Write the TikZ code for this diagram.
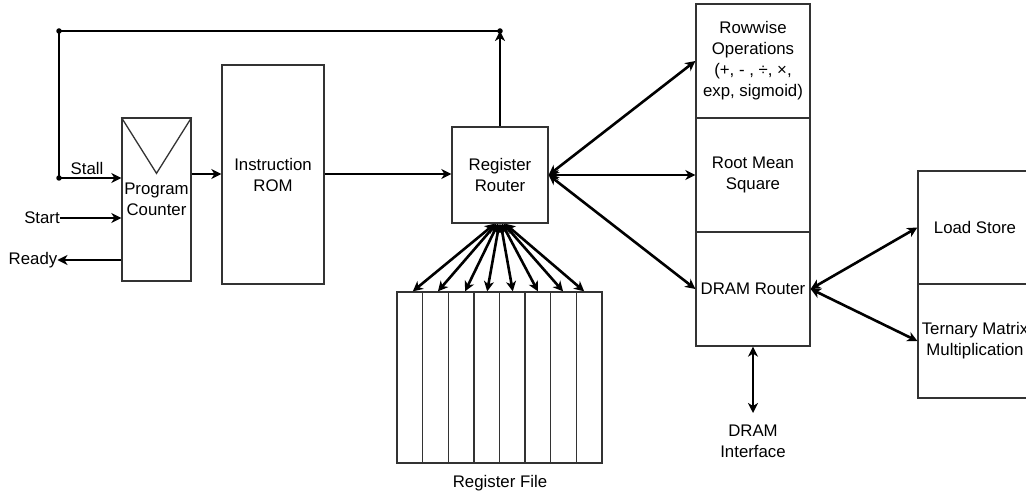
\documentclass[tikz,border=0pt]{standalone}
\usepackage{fontspec}
\setmainfont{Liberation Sans}
\usetikzlibrary{arrows.meta}
\begin{document}
\begin{tikzpicture}[x=1pt,y=-1pt,
  font=\fontsize{16.8}{21}\selectfont,
  box/.style={draw=black!80,line width=1.3pt,inner sep=0pt,align=center,fill=white},
  txt/.style={inner sep=0pt,align=center},
  arr/.style={line width=2.6pt,black,>={Stealth[length=10pt,width=10pt,inset=3pt]}},
  wire/.style={line width=2.6pt,black},
  dot/.style={circle,fill=black,inner sep=0pt,minimum size=5.5pt}]
\useasboundingbox (0,0) rectangle (1026,494);
% boxes
\node[box,minimum width=69pt,minimum height=163pt] (pc) at (156.5,199.5) {Program\\Counter};
\draw[black!80,line width=1.3pt] (pc.north west) -- ([yshift=-56pt]pc.north) -- (pc.north east);
\node[box,minimum width=102pt,minimum height=219pt] (rom) at (273,174.5) {Instruction\\ROM};
\node[box,minimum width=96pt,minimum height=96pt] (rr) at (500,175) {Register\\Router};
\foreach \i in {1,...,8}{
  \node[box,minimum width=25.6pt,minimum height=171pt] (rf\i) at ({397+25.625*(\i-0.5)},377.5) {};
}
\node[txt] (rflab) at (500,483) {Register File};
\node[box,minimum width=114pt,minimum height=114pt] (rw) at (753,61) {Rowwise\\Operations\\(+, - , ÷, ×,\\exp, sigmoid)};
\node[box,minimum width=114pt,minimum height=114pt] (rms) at (753,175) {Root Mean\\Square};
\node[box,minimum width=114pt,minimum height=114pt] (dram) at (753,289) {DRAM Router};
\node[box,minimum width=114pt,minimum height=113pt] (ls) at (975,227.5) {Load Store};
\node[box,minimum width=114pt,minimum height=114pt] (tm) at (975,341) {Ternary Matrix\\Multiplication};
\node[txt] (dif) at (753,441) {DRAM\\Interface};
\coordinate (difa) at (753,413);
% labels
\node[txt] (stall) at (87,168) {Stall};
\node[txt] (start) at (42,218) {Start};
\node[txt] (ready) at (33,260) {Ready};
% feedback loop
\coordinate (jl) at (59,31);
\coordinate (js) at (59,178);
\coordinate (jr) at (500,31);
\draw[wire] (jr) -- (jl) -- (js);
\draw[arr,->] (js) -- (js -| pc.west);
\draw[arr,->] (rr.north) -- (jr);
\node[dot] at (jl) {};
\node[dot] at (js) {};
\node[dot] at (jr) {};
% inputs/outputs
\draw[arr,->] (start.east) -- (start.east -| pc.west);
\draw[arr,->] (pc.west |- ready.east) -- (ready.east);
\draw[arr,->] (pc.east |- 0,174) -- (rom.west |- 0,174);
\draw[arr,->] (rom.east |- 0,174) -- (rr.west |- 0,174);
% register file fan-out
\draw[arr,<->] ([xshift=-5pt]rr.south) -- ([xshift=3pt]rf1.north);
\draw[arr,<->] ([xshift=-3.5pt]rr.south) -- ([xshift=2.5pt]rf2.north);
\draw[arr,<->] ([xshift=-2pt]rr.south) -- ([xshift=4pt]rf3.north);
\draw[arr,<->] ([xshift=-0.7pt]rr.south) -- ([xshift=0.5pt]rf4.north);
\draw[arr,<->] ([xshift=0.7pt]rr.south) -- ([xshift=0.5pt]rf5.north);
\draw[arr,<->] ([xshift=2pt]rr.south) -- ([xshift=0pt]rf6.north);
\draw[arr,<->] ([xshift=3.5pt]rr.south) -- ([xshift=-0.5pt]rf7.north);
\draw[arr,<->] ([xshift=5pt]rr.south) -- ([xshift=-5pt]rf8.north);
% right side
\draw[arr,<->] (rr.east) -- (rw.west);
\draw[arr,<->] (rr.east) -- (rms.west);
\draw[arr,<->] (rr.east) -- (dram.west);
\draw[arr,<->] (dram.east) -- (ls.west);
\draw[arr,<->] (dram.east) -- (tm.west);
\draw[arr,<->] (dram.south) -- (difa);
\end{tikzpicture}
\end{document}
